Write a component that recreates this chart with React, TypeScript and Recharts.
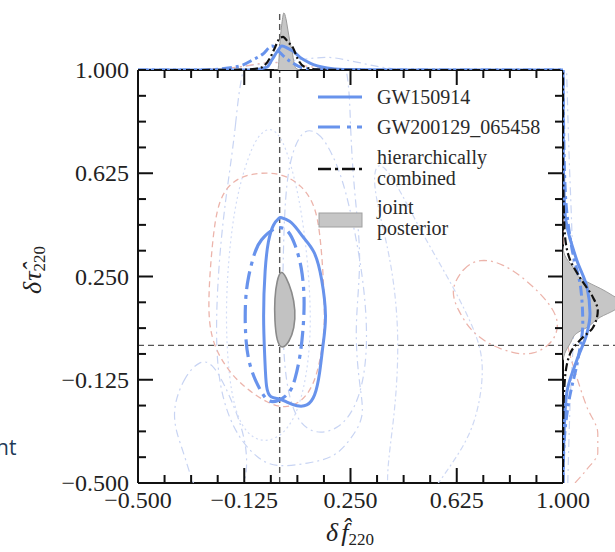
import { ComposedChart, Scatter, XAxis, YAxis, ReferenceLine } from "recharts";

const FONT = '"Liberation Serif", "DejaVu Serif", serif';
const BLUE = "#6893ec";
const FAINT_BLUE = "#c8d4f3";
const FAINT_RED = "#ecb4ab";

// axis ticks (major + minor), shared by both axes
const TICKS = [
  -0.5, -0.40625, -0.3125, -0.21875, -0.125, -0.03125, 0.0625, 0.15625, 0.25,
  0.34375, 0.4375, 0.53125, 0.625, 0.71875, 0.8125, 0.90625, 1,
];
const MAJOR = [-0.5, -0.125, 0.25, 0.625, 1];

// 2D contours, [δf, δτ]
const GW150914_90 = [
  [0.001, 0.465], [0.001, 0.465], [0.036, 0.455], [0.064, 0.42], [0.082, 0.392],
  [0.125, 0.345], [0.149, 0.247], [0.167, 0.102], [0.153, 0.007], [0.142, -0.102],
  [0.125, -0.189], [0.097, -0.222], [0.061, -0.222], [0.026, -0.207], [0.001, -0.193],
  [-0.034, -0.192], [-0.048, -0.16], [-0.052, -0.054], [-0.059, 0.102], [-0.052, 0.283],
  [-0.041, 0.381], [-0.023, 0.443],
];
const GW200129_90 = [
  [-0.02, 0.43], [-0.069, 0.381], [-0.087, 0.345], [-0.112, 0.247], [-0.122, 0.163],
  [-0.122, 0.044], [-0.112, -0.054], [-0.087, -0.127], [-0.062, -0.174], [-0.041, -0.207],
  [-0.006, -0.205], [0.037, -0.174], [0.054, -0.127], [0.072, -0.044], [0.082, 0.044],
  [0.089, 0.163], [0.079, 0.283], [0.054, 0.371], [0.026, 0.429],
];
const JOINT_90 = [
  [0.005, 0.275], [0.022, 0.25], [0.044, 0.195], [0.056, 0.127], [0.052, 0.062],
  [0.034, 0.012], [0.008, -0.015], [-0.01, 0.012], [-0.018, 0.091], [-0.018, 0.171],
  [-0.01, 0.235],
];
const OTHER_RED_A = [
  [-0.076, 0.628], [0.008, 0.625], [0.079, 0.581], [0.125, 0.509], [0.142, 0.41],
  [0.153, 0.272], [0.157, 0.163], [0.16, 0.054], [0.132, -0.127], [0.079, -0.207],
  [0.019, -0.229], [-0.041, -0.211], [-0.122, -0.156], [-0.193, -0.08], [-0.246, 0.029],
  [-0.253, 0.163], [-0.239, 0.363], [-0.218, 0.534], [-0.158, 0.607],
];
const OTHER_RED_B = [
  [0.601, 0.2], [0.647, 0.283], [0.707, 0.316], [0.788, 0.298], [0.873, 0.236],
  [0.954, 0.153], [0.99, 0.08], [0.965, 0.007], [0.894, -0.036], [0.824, -0.029],
  [0.743, 0], [0.672, 0.054], [0.63, 0.127],
];
const OTHER_A = [
  [-0.122, 1.2], [-0.154, 0.781], [-0.193, 0.527], [-0.221, 0.236], [-0.228, -0.102],
  [-0.168, -0.309], [-0.076, -0.418], [-0.006, -0.443], [0.1, -0.429], [0.195, -0.407],
  [0.248, -0.345], [0.301, -0.262], [0.284, -0.163], [0.262, 0.054], [0.291, 0.309],
  [0.266, 0.527], [0.248, 0.781], [0.241, 1.2],
];
const OTHER_B = [
  [-0.281, -0.054], [-0.334, -0.109], [-0.376, -0.218], [-0.369, -0.309], [-0.334, -0.4],
  [-0.281, -0.6], [-0.14, -0.6], [-0.105, -0.418], [-0.14, -0.272], [-0.193, -0.145],
  [-0.239, -0.062],
];
const OTHER_C = [
  [-0.041, 0.792], [-0.006, 0.774], [0.029, 0.701], [0.072, 0.527], [0.1, 0.309],
  [0.114, 0.054], [0.089, -0.163], [0.037, -0.309], [-0.052, -0.363], [-0.14, -0.309],
  [-0.182, -0.127], [-0.193, 0.163], [-0.168, 0.454], [-0.133, 0.617], [-0.087, 0.752],
];
const OTHER_D = [
  [0.089, 0.788], [0.135, 0.774], [0.171, 0.726], [0.22, 0.617], [0.266, 0.418],
  [0.301, 0.2], [0.312, -0.018], [0.284, -0.2], [0.213, -0.309], [0.107, -0.327],
  [0.037, -0.236], [0.008, -0.018], [0.012, 0.345], [0.022, 0.599], [0.051, 0.726],
];
const OTHER_E = [
  [0.354, 0.708], [0.495, 0.418], [0.601, 0.236], [0.7, 0.036], [0.725, -0.091],
  [0.689, -0.309], [0.591, -0.454], [0.495, -0.6], [0.354, -0.6], [0.407, -0.272],
  [0.425, 0.054], [0.389, 0.345], [0.319, 0.599],
];

// top marginals, [δf, density]
const TOP_JOINT = [
  [-0.02, 0], [-0.006, 0], [-0.003, 0.15], [0.001, 0.47], [0.008, 0.82], [0.015, 1.0],
  [0.022, 0.9], [0.029, 0.7], [0.036, 0.5], [0.044, 0.33], [0.051, 0.12], [0.058, 0.03],
  [0.072, 0],
];
const TOP_HIER = [
  [-0.5, 0], [-0.316, 0], [-0.14, 0.005], [-0.087, 0.02], [-0.062, 0.05], [-0.034, 0.21],
  [-0.016, 0.4], [0.001, 0.56], [0.012, 0.58], [0.029, 0.49], [0.047, 0.39], [0.065, 0.18],
  [0.089, 0.05], [0.132, 0.01], [0.213, 0.002], [0.354, 0], [1, 0],
];
const TOP_GW150914 = [
  [-0.5, 0], [-0.105, 0], [-0.045, 0.05], [-0.027, 0.18], [-0.009, 0.32], [0.008, 0.42],
  [0.029, 0.38], [0.047, 0.33], [0.072, 0.22], [0.107, 0.12], [0.167, 0.035], [0.224, 0.01],
  [0.425, 0.002], [0.636, 0], [1, 0],
];
const TOP_GW200129 = [
  [-0.5, 0], [-0.281, 0], [-0.175, 0.04], [-0.129, 0.09], [-0.094, 0.18], [-0.059, 0.28],
  [-0.027, 0.42], [-0.006, 0.34], [0.019, 0.22], [0.047, 0.12], [0.082, 0.035],
  [0.142, 0.005], [0.248, 0], [1, 0],
];
const TOP_OTHER_BLUE = [
  [-0.5, 0], [-0.28, 0], [-0.1, 0.08], [0.05, 0.17], [0.17, 0.22], [0.25, 0.16],
  [0.36, 0.05], [0.5, 0], [1, 0],
];
const TOP_OTHER_RED = [
  [-0.5, 0], [-0.3, 0], [-0.15, 0.05], [-0.03, 0.13], [0.05, 0.1], [0.15, 0.03], [0.3, 0],
  [1, 0],
];

// right marginals, [δτ, density]
const RIGHT_JOINT = [
  [-0.054, 0], [-0.029, 0.03], [0.007, 0.12], [0.044, 0.23], [0.065, 0.4], [0.102, 0.62],
  [0.127, 0.85], [0.153, 1.0], [0.182, 0.82], [0.207, 0.62], [0.225, 0.45], [0.247, 0.28],
  [0.283, 0.17], [0.327, 0.03], [0.36, 0],
];
const RIGHT_HIER = [
  [-0.5, 0], [-0.27, 0.005], [-0.127, 0.03], [-0.029, 0.12], [0.018, 0.28], [0.065, 0.5],
  [0.127, 0.58], [0.174, 0.5], [0.247, 0.28], [0.309, 0.12], [0.407, 0.03], [0.527, 0.01],
  [0.708, 0], [1, 0],
];
const RIGHT_GW150914 = [
  [-0.5, 0], [-0.26, 0.03], [-0.163, 0.07], [-0.054, 0.23], [0.044, 0.4], [0.116, 0.45],
  [0.211, 0.4], [0.309, 0.23], [0.49, 0.03], [0.7, 0.005], [1, 0],
];
const RIGHT_GW200129 = [
  [-0.5, 0], [-0.35, 0.02], [-0.2, 0.1], [-0.05, 0.25], [0.08, 0.33], [0.2, 0.3],
  [0.35, 0.15], [0.55, 0.04], [0.8, 0.01], [1, 0],
];
const RIGHT_OTHER_RED = [
  [-0.5, 0.2], [-0.45, 0.4], [-0.39, 0.58], [-0.32, 0.58], [-0.225, 0.4], [-0.116, 0.23],
  [0, 0.08], [0.15, 0.02], [0.4, 0], [1, 0],
];
const RIGHT_OTHER_BLUE = [
  [-0.5, 0.08], [-0.2, 0.12], [0.1, 0.18], [0.4, 0.15], [0.7, 0.1], [1, 0.06],
];

const toXY = (a: number[][]) => a.map(([x, y]) => ({ x, y }));
const toYX = (a: number[][]) => a.map(([y, x]) => ({ x, y }));
const NoDot = () => <g />;
const isMajor = (v: number) => MAJOR.some((m) => Math.abs(m - v) < 1e-6);
const fmt = (v: number) => v.toFixed(3).replace("-", "\u2212");

const AX = "#111111";
const BIG = 15;
const SMALL = 8;

// plot box (px) that the margins below produce
const LEFT = 138;
const RIGHT = 563;
const TOP = 70;
const BOTTOM = 483;

// label + inward tick mark, drawn from the axis' own tick position
function LeftTick(props: any) {
  const { x, y, payload } = props;
  const v = Number(payload?.value);
  const major = isMajor(v);
  const L = major ? BIG : SMALL;
  const px = Number(x);
  const py = Number(y);
  return (
    <g>
      <path d={`M ${px} ${py} H ${px + L}`} stroke={AX} strokeWidth={2} fill="none" />
      <path d={`M ${RIGHT} ${py} H ${RIGHT - L}`} stroke={AX} strokeWidth={2} fill="none" />
      {major && (
        <text x={px - 9} y={py} textAnchor="end" dominantBaseline="central" style={{ fontFamily: FONT }} fontSize={24} fill="#222">
          {fmt(v)}
        </text>
      )}
    </g>
  );
}
function BottomTick(props: any) {
  const { x, y, payload } = props;
  const v = Number(payload?.value);
  const major = isMajor(v);
  const L = major ? BIG : SMALL;
  const px = Number(x);
  const py = Number(y);
  return (
    <g>
      <path d={`M ${px} ${py} V ${py - L}`} stroke={AX} strokeWidth={2} fill="none" />
      <path d={`M ${px} ${TOP} V ${TOP + L}`} stroke={AX} strokeWidth={2} fill="none" />
      {major && (
        <text x={px} y={py + 17} textAnchor="middle" dominantBaseline="central" style={{ fontFamily: FONT }} fontSize={24} fill="#222">
          {fmt(v)}
        </text>
      )}
    </g>
  );
}

function contour(key: string, data: number[][], stroke: string, width: number, dash?: string, fill?: string) {
  return (
    <Scatter
      key={key}
      data={toXY(data)}
      line={{ stroke, strokeWidth: width, strokeDasharray: dash, fill: fill ?? "none" }}
      lineJointType="basisClosed"
      shape={NoDot}
      isAnimationActive={false}
    />
  );
}

function curve(key: string, data: { x: number; y: number }[], joint: "monotoneX" | "monotoneY", stroke: string, width: number, dash?: string, fill?: string) {
  return (
    <Scatter
      key={key}
      data={data}
      line={{ stroke, strokeWidth: width, strokeDasharray: dash, fill: fill ?? "none" }}
      lineJointType={joint}
      shape={NoDot}
      isAnimationActive={false}
    />
  );
}

const axisLine = { stroke: AX, strokeWidth: 2 };
const DASHED = { stroke: "#555", strokeDasharray: "6 4", strokeWidth: 1.4 };

function MainChart() {
  return (
    <ComposedChart width={615} height={552} margin={{ top: TOP, right: 615 - RIGHT, bottom: 552 - BOTTOM - 30, left: LEFT - 60 }}>
      <XAxis type="number" dataKey="x" domain={[-0.5, 1]} ticks={TICKS} interval={0} allowDataOverflow
        height={30} tickSize={0} tickMargin={0} tickLine={false} axisLine={axisLine} tick={BottomTick} />
      <YAxis type="number" dataKey="y" domain={[-0.5, 1]} ticks={TICKS} interval={0} allowDataOverflow
        width={60} tickSize={0} tickMargin={0} tickLine={false} axisLine={axisLine} tick={LeftTick} />

      {contour("oa", OTHER_A, FAINT_BLUE, 1.2, "8 4 2 4")}
      {contour("ob", OTHER_B, FAINT_BLUE, 1.2, "8 4 2 4")}
      {contour("oc", OTHER_C, "#d2dcf6", 1.2, "2 3")}
      {contour("od", OTHER_D, FAINT_BLUE, 1.2, "8 4 2 4")}
      {contour("oe", OTHER_E, "#cfd9f4", 1.2, "6 3 2 3")}
      {contour("ra", OTHER_RED_A, FAINT_RED, 1.3, "6 4")}
      {contour("rb", OTHER_RED_B, FAINT_RED, 1.3, "8 4 2 4")}
      {contour("gw2", GW200129_90, BLUE, 3.2, "18 6 4 6")}
      {contour("gw1", GW150914_90, BLUE, 3)}
      {contour("joint", JOINT_90, "#8a8a8a", 1.6, undefined, "#c2c2c2")}

      <ReferenceLine x={0} {...DASHED} />
      <ReferenceLine y={0} {...DASHED} />
      <ReferenceLine x={1} stroke={AX} strokeWidth={2} />
      <ReferenceLine y={1} stroke={AX} strokeWidth={2} />
    </ComposedChart>
  );
}

function TopMarginal() {
  return (
    <ComposedChart width={615} height={TOP} margin={{ top: 10, right: 615 - RIGHT, bottom: 0, left: LEFT }}>
      <XAxis hide type="number" dataKey="x" domain={[-0.5, 1]} allowDataOverflow />
      <YAxis hide type="number" dataKey="y" domain={[0, 1.05]} allowDataOverflow />
      {curve("tob", toXY(TOP_OTHER_BLUE), "monotoneX", FAINT_BLUE, 1.2, "8 4 2 4")}
      {curve("tor", toXY(TOP_OTHER_RED), "monotoneX", FAINT_RED, 1.2, "8 4 2 4")}
      {curve("tj", toXY(TOP_JOINT), "monotoneX", "#9a9a9a", 1, undefined, "#c6c6c6")}
      {curve("t2", toXY(TOP_GW200129), "monotoneX", BLUE, 3, "10 4 3 4")}
      {curve("t1", toXY(TOP_GW150914), "monotoneX", BLUE, 3)}
      {curve("th", toXY(TOP_HIER), "monotoneX", "#111", 2.2, "8 3 2 3")}
      <ReferenceLine x={0} {...DASHED} />
    </ComposedChart>
  );
}

function RightMarginal() {
  return (
    <ComposedChart width={60} height={552} margin={{ top: TOP, right: 0, bottom: 552 - BOTTOM, left: 0 }}>
      <XAxis hide type="number" dataKey="x" domain={[0, 1]} allowDataOverflow />
      <YAxis hide type="number" dataKey="y" domain={[-0.5, 1]} allowDataOverflow />
      {curve("rob", toYX(RIGHT_OTHER_BLUE), "monotoneY", FAINT_BLUE, 1.2, "8 4 2 4")}
      {curve("ror", toYX(RIGHT_OTHER_RED), "monotoneY", FAINT_RED, 1.2, "8 4 2 4")}
      {curve("rj", toYX(RIGHT_JOINT), "monotoneY", "#a0a0a0", 1, undefined, "#c6c6c6")}
      {curve("r2", toYX(RIGHT_GW200129), "monotoneY", BLUE, 3, "10 4 3 4")}
      {curve("r1", toYX(RIGHT_GW150914), "monotoneY", BLUE, 3)}
      {curve("rh", toYX(RIGHT_HIER), "monotoneY", "#111", 2.2, "8 3 2 3")}
      <ReferenceLine y={0} {...DASHED} />
    </ComposedChart>
  );
}

function Overlay() {
  const txt = { fontSize: 20, fill: "#2a2a2a", dominantBaseline: "central" as const, style: { fontFamily: FONT } };
  return (
    <svg width={615} height={552} style={{ position: "absolute", left: 0, top: 0, pointerEvents: "none" }}>
      <line x1={318} y1={97} x2={362} y2={97} stroke={BLUE} strokeWidth={3} />
      <text x={377} y={97} {...txt}>GW150914</text>
      <line x1={318} y1={127} x2={362} y2={127} stroke={BLUE} strokeWidth={3} strokeDasharray="22 7 4 6" />
      <text x={377} y={127} {...txt}>GW200129_065458</text>
      <line x1={318} y1={169} x2={362} y2={169} stroke="#111" strokeWidth={2.4} strokeDasharray="13 4 3 4" />
      <text x={377} y={157} {...txt}>hierarchically</text>
      <text x={377} y={178} {...txt}>combined</text>
      <rect x={319} y={213} width={43} height={14} fill="#c6c6c6" stroke="#a0a0a0" strokeWidth={1} />
      <text x={377} y={207} {...txt}>joint</text>
      <text x={377} y={228} {...txt}>posterior</text>

      <text x={350} y={532} textAnchor="middle" dominantBaseline="central" style={{ fontFamily: FONT }} fontSize={26} fill="#222">
        <tspan fontStyle="italic">δ</tspan>
        <tspan fontStyle="italic" dx={3}>{"f\u0302"}</tspan>
        <tspan fontSize={17} dy={7}>220</tspan>
      </text>
      <text x={32} y={270} transform="rotate(-90 32 270)" textAnchor="middle" dominantBaseline="central" style={{ fontFamily: FONT }} fontSize={26} fill="#222">
        <tspan fontStyle="italic">δ</tspan>
        <tspan fontStyle="italic" dx={1}>{"\u03c4\u0302"}</tspan>
        <tspan fontSize={17} dy={7}>220</tspan>
      </text>

      <text x={-4} y={447} dominantBaseline="central" style={{ fontFamily: '"Open Sans", "Noto Sans", sans-serif' }} fontSize={21} fill="#1f3b57">
        nt
      </text>
    </svg>
  );
}

export default function App() {
  return (
    <div style={{ position: "absolute", left: 0, top: 0, width: 615, height: 552, overflow: "hidden", background: "#fff" }}>
      <div style={{ position: "absolute", left: 0, top: 0 }}>
        <MainChart />
      </div>
      <div style={{ position: "absolute", left: 0, top: 0 }}>
        <TopMarginal />
      </div>
      <div style={{ position: "absolute", left: RIGHT, top: 0 }}>
        <RightMarginal />
      </div>
      <Overlay />
    </div>
  );
}
